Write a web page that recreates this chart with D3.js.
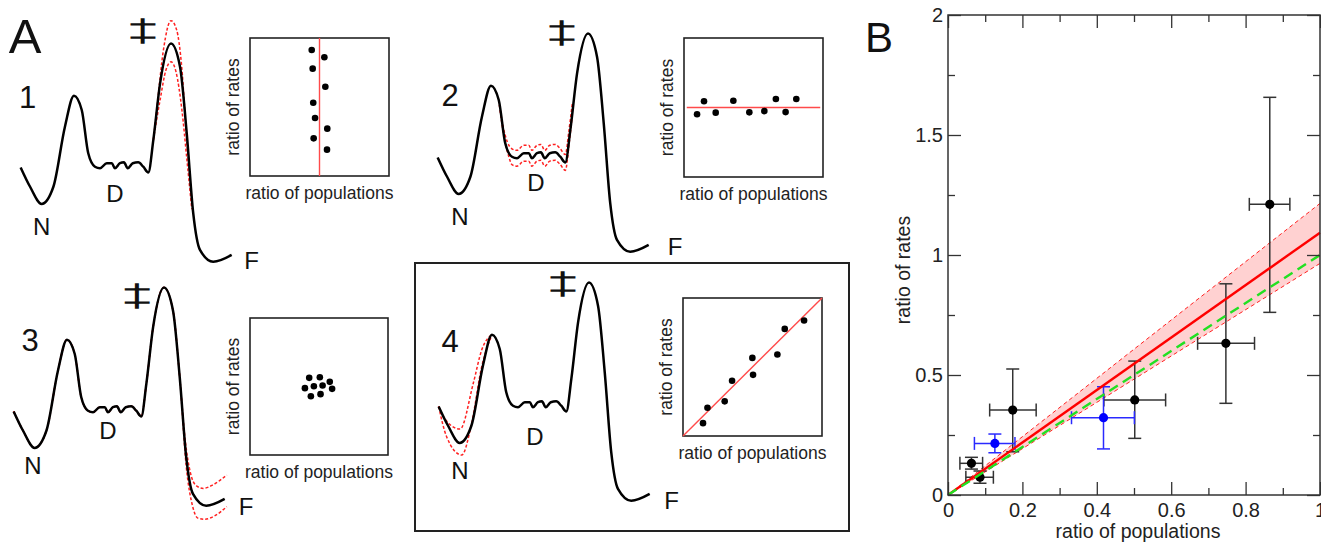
<!DOCTYPE html>
<html>
<head>
<meta charset="utf-8">
<script src="https://cdn.jsdelivr.net/npm/d3@7"></script>
<style>
  html, body { margin: 0; padding: 0; background: #fff; }
  svg { display: block; font-family: "Liberation Sans", Arial, sans-serif; }
</style>
</head>
<body>
<svg id="fig" width="1321" height="543"></svg>
<script>
'use strict'

/****** DATA ******/

// free energy landscape: reaction coordinate (0-100) vs free energy (0-100)
const landscape = [
  [0.3, 43], [4.8, 34.2], [10.3, 26.4], [15.9, 34.2], [21.4, 61.5], [25.7, 75.6],
  [29.4, 69.1], [32.5, 49.4], [35.7, 43.3], [38.1, 42.6], [41.3, 44.9], [43.7, 44.9],
  [45.2, 42.6], [47.6, 44.9], [49.5, 45.3], [51.3, 42.6], [53.7, 44.9], [56.3, 45.3],
  [58.7, 43.3], [61.1, 40.7], [63.5, 55.5], [66.7, 81.2], [71.9, 99.3], [76.2, 88.8],
  [79.4, 58.5], [82.5, 22.1], [85.7, 5.5], [92.0, 0.1], [100.8, 3.2]
]

// perturbed landscapes (dashed red)
const tsUpper = [[63.5, 55.5], [65.1, 69.1], [68.3, 96.4], [71.9, 109.7], [74.6, 105.5], [77, 88.8], [79.4, 55.5], [81.8, 28.2]]
const tsLower = [[63.5, 55.5], [66.7, 73.6], [69.5, 87.3], [71.9, 91], [74.3, 86.4], [77.1, 69.1], [79.5, 46.4], [81.8, 24]]

const dUpper = [[29.4, 69.1], [31.5, 57], [33.5, 50], [35.7, 46.9], [38.1, 46.2], [41.3, 48.5], [43.7, 48.5],
  [45.2, 46.2], [47.6, 48.5], [49.5, 48.9], [51.3, 46.2], [53.7, 48.5], [56.3, 48.9], [58.7, 46.9],
  [61.1, 44.3], [62.8, 55], [64.5, 68]]
const dLower = [[29.4, 69.1], [32, 52], [34, 44], [35.7, 39.7], [38.1, 39], [41.3, 41.3], [43.7, 41.3],
  [45.2, 39], [47.6, 41.3], [49.5, 41.7], [51.3, 39], [53.7, 41.3], [56.3, 41.7], [58.7, 39.7],
  [61.1, 37.1], [63, 50], [64.5, 63]]

const fUpper = landscape.slice(0, 25).concat([[82, 30], [84.5, 15], [87, 9.5], [90.6, 8], [95, 9.5], [101.8, 14.1]])
const fLower = landscape.slice(0, 25).concat([[82.5, 18], [85.5, 0], [88, -5.5], [91.4, -6], [96, -4.5], [101.8, -0.3]])

const nUpper = [[0.3, 43], [2.5, 38.3], [10.5, 32.7], [16.8, 53.5], [20.8, 68.6], [25.7, 75.6]]
const nLower = [[0.3, 43], [4.1, 29.2], [11.3, 20.9], [16, 35.3], [20.8, 61], [25.7, 75.6]]

// inset scatter: ratio of populations vs ratio of rates (normalised)
const dots1 = [[0.444, 0.913], [0.535, 0.860], [0.451, 0.778], [0.542, 0.647], [0.455, 0.531],
  [0.468, 0.420], [0.556, 0.343], [0.458, 0.273], [0.554, 0.191]]
const dots2 = [[0.094, 0.451], [0.144, 0.545], [0.228, 0.463], [0.355, 0.549], [0.470, 0.465],
  [0.578, 0.474], [0.661, 0.561], [0.731, 0.467], [0.808, 0.561]]
const dots3 = [[0.429, 0.563], [0.506, 0.568], [0.578, 0.534], [0.398, 0.488], [0.463, 0.502],
  [0.526, 0.507], [0.595, 0.483], [0.441, 0.429], [0.511, 0.444]]
const dots4 = [[0.144, 0.093], [0.176, 0.205], [0.300, 0.251], [0.353, 0.400], [0.499, 0.566],
  [0.504, 0.443], [0.679, 0.591], [0.732, 0.776], [0.871, 0.837]]

const guide1 = [[0.5, 0], [0.5, 1]]
const guide2 = [[0.02, 0.5], [0.98, 0.5]]
const guide4 = [[0, 0], [1, 1]]

// panel B: x, y, xlo, xhi, ylo, yhi
const blackPts = [
  [0.865, 1.211, 0.81, 0.919, 0.761, 1.657],
  [0.747, 0.632, 0.671, 0.824, 0.382, 0.880],
  [0.502, 0.396, 0.419, 0.585, 0.236, 0.558],
  [0.174, 0.354, 0.112, 0.237, 0.18, 0.525],
  [0.063, 0.132, 0.032, 0.093, 0.108, 0.157],
  [0.086, 0.074, 0.048, 0.122, 0.049, 0.10]
]
const bluePts = [
  [0.126, 0.215, 0.071, 0.18, 0.176, 0.254],
  [0.418, 0.322, 0.332, 0.501, 0.192, 0.451]
]
const fitLine = [[0, 0], [1, 1.093]]
const bandUpper = [[0, 0], [1, 1.215]]
const bandLower = [[0, 0], [1, 0.965]]
const identityLine = [[0, 0], [1, 1.0]]

const xTicksMajor = [0, 0.2, 0.4, 0.6, 0.8, 1]
const xTicksMinor = [0.1, 0.3, 0.5, 0.7, 0.9]
const yTicksMajor = [0, 0.5, 1, 1.5, 2]
const yTicksMinor = [0.25, 0.75, 1.25, 1.75]

/****** HELPERS ******/

const svg = d3.select('#fig')

function capText(g, txt, cx, cy, fs) {
  // place text so that its cap height is centred on (cx, cy)
  return g.append('text')
    .attr('x', cx)
    .attr('y', cy + fs * 0.358)
    .attr('text-anchor', 'middle')
    .attr('font-size', fs)
    .attr('fill', '#111')
    .text(txt)
}

/****** PANEL A ******/

const panelsA = [
  { num: '1', dx: 0, dy: 0, up: tsUpper, lo: tsLower, box: [250, 38, 139, 138], dots: dots1, guide: guide1,
    lab: { num: [27.7, 96.7], dag: [142.7, 31.7], N: [41.7, 226.7], D: [115, 193.3], F: [251.7, 260] } },
  { num: '2', dx: 417, dy: -10, up: dUpper, lo: dLower, box: [684, 38, 139, 139], dots: dots2, guide: guide2,
    lab: { num: [450, 95], dag: [561.7, 33.3], N: [460, 216.7], D: [536, 182.7], F: [675, 246.7] } },
  { num: '3', dx: -7, dy: 244, up: fUpper, lo: fLower, box: [250, 318, 138, 137], dots: dots3, guide: null,
    lab: { num: [30, 340], dag: [137, 297], N: [33, 465], D: [108, 430], F: [246, 506] } },
  { num: '4', dx: 418, dy: 239, up: nUpper, lo: nLower, box: [683, 298, 139, 138], dots: dots4, guide: guide4,
    lab: { num: [450, 341], dag: [562.7, 285], N: [460, 470], D: [535, 436.7], F: [671.7, 500.7] } }
]

// framed box around panel 4
svg.append('rect')
  .attr('x', 415).attr('y', 263).attr('width', 434).attr('height', 268)
  .attr('fill', 'none').attr('stroke', '#222').attr('stroke-width', 2)

capText(svg, 'A', 25, 35.5, 49)

panelsA.forEach(p => {
  const g = svg.append('g')
  const x = d3.scaleLinear().domain([0, 100]).range([20 + p.dx, 230 + p.dx])
  const y = d3.scaleLinear().domain([0, 100]).range([262 + p.dy, 42 + p.dy])
  const line = d3.line().x(d => x(d[0])).y(d => y(d[1])).curve(d3.curveMonotoneX)

  g.selectAll('.pert')
    .data([p.up, p.lo])
    .join('path')
      .attr('class', 'pert')
      .attr('d', line)
      .attr('fill', 'none')
      .attr('stroke', '#ff2020')
      .attr('stroke-width', 1.5)
      .attr('stroke-dasharray', '3,2')

  g.append('path')
    .attr('d', line(landscape))
    .attr('fill', 'none')
    .attr('stroke', '#000')
    .attr('stroke-width', 2.5)

  capText(g, p.num, p.lab.num[0], p.lab.num[1], 31)
  capText(g, 'N', p.lab.N[0], p.lab.N[1], 24)
  capText(g, 'D', p.lab.D[0], p.lab.D[1], 24)
  capText(g, 'F', p.lab.F[0], p.lab.F[1], 24)
  // transition state mark: thin glyph, squashed, with an even outline stroke
  g.append('text')
    .attr('transform', `translate(${p.lab.dag[0]},${p.lab.dag[1] + 6.4}) scale(1,0.56)`)
    .attr('text-anchor', 'middle')
    .attr('font-family', 'Roboto')
    .attr('font-weight', 100)
    .attr('font-size', 46)
    .attr('fill', '#111')
    .attr('stroke', '#111')
    .attr('stroke-width', 2.2)
    .attr('vector-effect', 'non-scaling-stroke')
    .text('‡')

  // inset
  const [bx, by, bw, bh] = p.box
  const ix = d3.scaleLinear().domain([0, 1]).range([bx, bx + bw])
  const iy = d3.scaleLinear().domain([0, 1]).range([by + bh, by])
  const ins = g.append('g')
  ins.append('rect')
    .attr('x', bx).attr('y', by).attr('width', bw).attr('height', bh)
    .attr('fill', 'none').attr('stroke', '#222').attr('stroke-width', 1.6)
  if (p.guide) {
    ins.append('path')
      .attr('d', d3.line().x(d => ix(d[0])).y(d => iy(d[1]))(p.guide))
      .attr('stroke', '#ff4a4a')
      .attr('stroke-width', 1.4)
      .attr('fill', 'none')
  }
  ins.selectAll('circle')
    .data(p.dots)
    .join('circle')
      .attr('cx', d => ix(d[0]))
      .attr('cy', d => iy(d[1]))
      .attr('r', 3.3)
      .attr('fill', '#000')
  ins.append('text')
    .attr('x', bx + bw / 2)
    .attr('y', by + bh + 23)
    .attr('text-anchor', 'middle')
    .attr('font-size', 17.5)
    .attr('fill', '#222')
    .text('ratio of populations')
  ins.append('text')
    .attr('transform', `translate(${bx - 11},${by + bh / 2}) rotate(-90)`)
    .attr('text-anchor', 'middle')
    .attr('font-size', 17.5)
    .attr('fill', '#222')
    .text('ratio of rates')
})

/****** PANEL B ******/

capText(svg, 'B', 879, 37, 42)

const xB = d3.scaleLinear().domain([0, 1]).range([948, 1320])
const yB = d3.scaleLinear().domain([0, 2]).range([495, 15])
const lineB = d3.line().x(d => xB(d[0])).y(d => yB(d[1]))

const gB = svg.append('g')

// confidence band
gB.append('path')
  .attr('d', lineB(bandUpper.concat(bandLower.slice().reverse())))
  .attr('fill', '#ff0000')
  .attr('fill-opacity', 0.18)
  .attr('stroke', 'none')

gB.selectAll('.band-edge')
  .data([bandUpper, bandLower])
  .join('path')
    .attr('class', 'band-edge')
    .attr('d', lineB)
    .attr('fill', 'none')
    .attr('stroke', '#ff2020')
    .attr('stroke-width', 1)
    .attr('stroke-dasharray', '4,3')

function errorBars(data, color, dotColor) {
  const g = gB.append('g').attr('stroke', color).attr('stroke-width', 1.5)
  const cap = 6.5
  data.forEach(d => {
    const cx = xB(d[0]), cy = yB(d[1])
    g.append('line').attr('x1', cx).attr('x2', cx).attr('y1', yB(d[4])).attr('y2', yB(d[5]))
    g.append('line').attr('x1', xB(d[2])).attr('x2', xB(d[3])).attr('y1', cy).attr('y2', cy)
    ;[d[4], d[5]].forEach(v => g.append('line')
      .attr('x1', cx - cap).attr('x2', cx + cap).attr('y1', yB(v)).attr('y2', yB(v)))
    ;[d[2], d[3]].forEach(v => g.append('line')
      .attr('x1', xB(v)).attr('x2', xB(v)).attr('y1', cy - cap).attr('y2', cy + cap))
  })
  gB.append('g').selectAll('circle')
    .data(data)
    .join('circle')
      .attr('cx', d => xB(d[0]))
      .attr('cy', d => yB(d[1]))
      .attr('r', 4.6)
      .attr('fill', dotColor)
}

errorBars(blackPts, '#333', '#000')
errorBars(bluePts, '#2a2aff', '#0000ff')

gB.append('path')
  .attr('d', lineB(fitLine))
  .attr('stroke', '#ff0000')
  .attr('stroke-width', 2.4)
  .attr('fill', 'none')

gB.append('path')
  .attr('d', lineB(identityLine))
  .attr('stroke', '#22e022')
  .attr('stroke-width', 2.4)
  .attr('stroke-dasharray', '10,6')
  .attr('fill', 'none')

// axes (ticks pointing inward on all four sides)
function styleAxis(sel) {
  sel.select('.domain').remove()
  sel.selectAll('line').attr('stroke', '#333').attr('stroke-width', 1.3)
  sel.selectAll('text').attr('font-size', 20).attr('fill', '#222')
    .attr('font-family', '"Liberation Sans", Arial, sans-serif')
}
const fmt = d3.format('~g')

gB.append('g').attr('transform', 'translate(0,495)')
  .call(d3.axisBottom(xB).tickValues(xTicksMajor).tickSize(-13).tickPadding(8).tickFormat(fmt)).call(styleAxis)
gB.append('g').attr('transform', 'translate(0,495)')
  .call(d3.axisBottom(xB).tickValues(xTicksMinor).tickSize(-7).tickFormat('')).call(styleAxis)
gB.append('g').attr('transform', 'translate(0,15)')
  .call(d3.axisTop(xB).tickValues(xTicksMajor).tickSize(-13).tickFormat('')).call(styleAxis)
gB.append('g').attr('transform', 'translate(0,15)')
  .call(d3.axisTop(xB).tickValues(xTicksMinor).tickSize(-7).tickFormat('')).call(styleAxis)
gB.append('g').attr('transform', 'translate(948,0)')
  .call(d3.axisLeft(yB).tickValues(yTicksMajor).tickSize(-13).tickPadding(5).tickFormat(fmt)).call(styleAxis)
gB.append('g').attr('transform', 'translate(948,0)')
  .call(d3.axisLeft(yB).tickValues(yTicksMinor).tickSize(-7).tickFormat('')).call(styleAxis)
gB.append('g').attr('transform', 'translate(1320,0)')
  .call(d3.axisRight(yB).tickValues(yTicksMajor).tickSize(-13).tickFormat('')).call(styleAxis)
gB.append('g').attr('transform', 'translate(1320,0)')
  .call(d3.axisRight(yB).tickValues(yTicksMinor).tickSize(-7).tickFormat('')).call(styleAxis)

gB.append('rect')
  .attr('x', 948).attr('y', 15).attr('width', 372).attr('height', 480)
  .attr('fill', 'none').attr('stroke', '#333').attr('stroke-width', 1.5)

gB.append('text')
  .attr('x', 1138).attr('y', 538)
  .attr('text-anchor', 'middle')
  .attr('font-size', 19.5)
  .attr('fill', '#222')
  .text('ratio of populations')

gB.append('text')
  .attr('transform', 'translate(910,270) rotate(-90)')
  .attr('text-anchor', 'middle')
  .attr('font-size', 19.5)
  .attr('fill', '#222')
  .text('ratio of rates')
</script>
</body>
</html>
